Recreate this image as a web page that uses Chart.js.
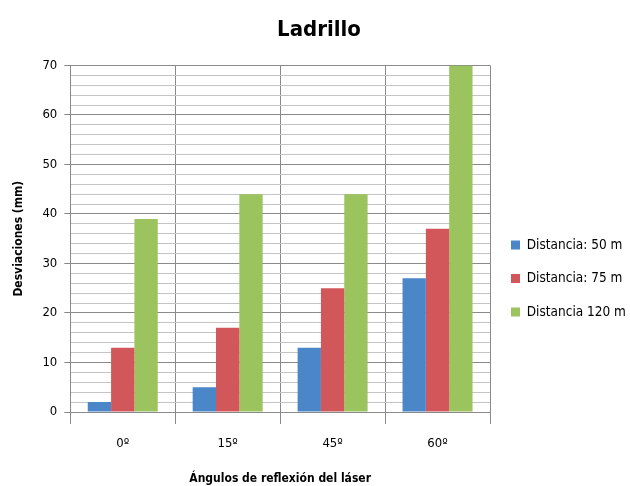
<!DOCTYPE html>
<html>
<head>
<meta charset="utf-8">
<script src="https://cdn.jsdelivr.net/npm/chart.js@4/dist/chart.umd.min.js"></script>
<style>
  html, body { margin: 0; padding: 0; background: #fff; }
  #wrap { width: 630px; height: 486px; }
</style>
</head>
<body>
<div id="wrap"><canvas id="mycanvas" width="630" height="486"></canvas></div>
<script>
var angulos = ['0º', '15º', '45º', '60º'];
var dist50 = [2, 5, 13, 27];
var dist75 = [13, 17, 25, 37];
var dist120 = [39, 44, 44, 70];
var yTicks = [0, 10, 20, 30, 40, 50, 60, 70];

var fuente = "'Liberation Sans Narrow', 'DejaVu Sans Condensed', Arial, sans-serif";
Chart.defaults.font.family = fuente;
Chart.defaults.color = '#000';

var chartdata = {
  labels: angulos,
  datasets: [
    { label: 'Distancia: 50 m', data: dist50, backgroundColor: '#4a86c8' },
    { label: 'Distancia: 75 m', data: dist75, backgroundColor: '#d2575a' },
    { label: 'Distancia 120 m', data: dist120, backgroundColor: '#9bc35e' }
  ]
};

// push the legend a bit below the vertical middle
var bajarLeyenda = {
  id: 'bajarLeyenda',
  afterUpdate: function(chart) { chart.$leyendaMovida = false; },
  beforeDraw: function(chart) {
    var lg = chart.legend;
    if (!lg || chart.$leyendaMovida) return;
    lg.top += 30;
    lg.bottom += 30;
    lg.left += 1;
    lg.right += 1;
    chart.$leyendaMovida = true;
  }
};

var ctx = document.getElementById('mycanvas');
var barGraph = new Chart(ctx, {
  type: 'bar',
  data: chartdata,
  plugins: [bajarLeyenda],
  options: {
    animation: false,
    responsive: false,
    layout: { padding: { left: 8, right: 0, top: 11, bottom: 0 } },
    datasets: { bar: { categoryPercentage: 0.667, barPercentage: 1.0 } },
    plugins: {
      title: {
        display: true,
        text: 'Ladrillo',
        font: { size: 22, weight: 'bold' },
        padding: { top: 6, bottom: 22 }
      },
      legend: {
        position: 'right',
        maxWidth: 140,
        labels: {
          boxWidth: 9,
          boxHeight: 9,
          padding: 20,
          font: { size: 13.5 }
        }
      },
      tooltip: { enabled: false }
    },
    scales: {
      x: {
        grid: {
          offset: true,
          color: '#8a8a8a',
          tickLength: 12,
          tickColor: '#8a8a8a'
        },
        border: { color: '#8a8a8a' },
        ticks: { font: { size: 13 }, padding: 12 },
        title: {
          display: true,
          text: 'Ángulos de reflexión del láser',
          font: { size: 12, weight: 'bold' },
          padding: { top: 8, bottom: 0 }
        }
      },
      y: {
        min: 0,
        max: 70,
        ticks: {
          stepSize: 2,
          autoSkip: false,
          font: { size: 13 },
          padding: 7,
          callback: function(v) { return yTicks.indexOf(v) >= 0 ? v : ''; }
        },
        grid: {
          color: function(c) { return c.tick && c.tick.value % 10 === 0 ? '#8a8a8a' : '#c4c4c4'; },
          tickColor: function(c) { return c.tick && c.tick.value % 10 === 0 ? '#8a8a8a' : 'rgba(0,0,0,0)'; },
          tickLength: 6
        },
        border: { color: '#8a8a8a' },
        title: {
          display: true,
          text: 'Desviaciones (mm)',
          font: { size: 12, weight: 'bold' },
          padding: { bottom: 9 }
        }
      }
    }
  }
});
</script>
</body>
</html>
